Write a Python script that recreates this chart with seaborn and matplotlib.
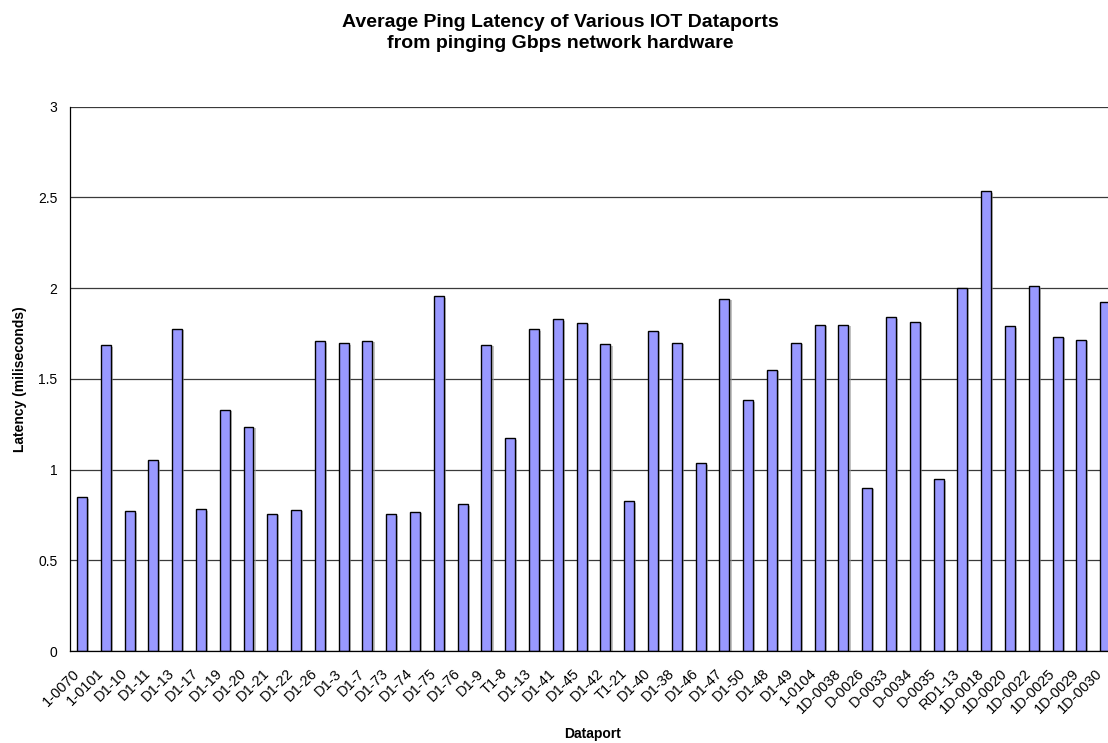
import numpy as np
import pandas as pd
import matplotlib
matplotlib.use("Agg")
import matplotlib.pyplot as plt
import matplotlib.patheffects as pe
from matplotlib.transforms import ScaledTranslation
import seaborn as sns

# Dataport names (note D1-13 shows up twice, so positions are used as x)
dataports = ['1-0070', '1-0101', 'D1-10', 'D1-11', 'D1-13', 'D1-17', 'D1-19', 'D1-20',
             'D1-21', 'D1-22', 'D1-26', 'D1-3', 'D1-7', 'D1-73', 'D1-74', 'D1-75',
             'D1-76', 'D1-9', 'T1-8', 'D1-13', 'D1-41', 'D1-45', 'D1-42', 'T1-21',
             'D1-40', 'D1-38', 'D1-46', 'D1-47', 'D1-50', 'D1-48', 'D1-49', '1-0104',
             '1D-0038', 'D-0026', 'D-0033', 'D-0034', 'D-0035', 'RD1-13', '1D-0018',
             '1D-0020', '1D-0022', '1D-0025', '1D-0029', '1D-0030']

# average latency in milliseconds
latency = [0.848, 1.685, 0.770, 1.050, 1.775, 0.780, 1.330, 1.235,
           0.757, 0.777, 1.706, 1.695, 1.708, 0.754, 0.768, 1.955,
           0.808, 1.688, 1.172, 1.773, 1.828, 1.810, 1.690, 0.826,
           1.763, 1.698, 1.035, 1.940, 1.382, 1.550, 1.700, 1.797,
           1.797, 0.900, 1.840, 1.813, 0.946, 2.003, 2.533, 1.790,
           2.010, 1.730, 1.714, 1.924]

yticks = [0, 0.5, 1, 1.5, 2, 2.5, 3]
ytick_labels = ['0', '0.5', '1', '1.5', '2', '2.5', '3']

df = pd.DataFrame({'pos': np.arange(len(dataports)), 'latency': latency})

sns.set_style("white")
plt.rcParams['font.family'] = ['Liberation Sans', 'DejaVu Sans']

fig = plt.figure(figsize=(11.08, 7.43), dpi=100)
ax = fig.add_axes([0.0632, 0.1238, 0.945, 0.7327])

sns.barplot(data=df, x='pos', y='latency', color='#9999FF', saturation=1,
            edgecolor='black', linewidth=1.0, width=0.42, errorbar=None, ax=ax)

# soft excel-like drop shadow on the bars
for p in ax.patches:
    p.set_path_effects([pe.SimplePatchShadow(offset=(1.5, -1), shadow_rgbFace='#999999', alpha=0.6),
                        pe.Normal()])

# gridlines behind the bars
ax.set_axisbelow(True)
ax.yaxis.grid(True, color='#3a3a3a', linewidth=0.9)
ax.set_ylim(0, 3)
ax.set_xlim(-0.5, len(dataports) - 0.5)
ax.set_yticks(yticks)
ax.set_yticklabels(ytick_labels, fontsize=10, color='black')

# category labels under bars, tick marks between categories
ax.set_xticks(np.arange(len(dataports)))
ax.set_xticklabels(dataports, rotation=45, ha='right', rotation_mode='anchor',
                   fontsize=10.5, color='black')
ax.set_xticks(np.arange(len(dataports) + 1) - 0.5, minor=True)
ax.tick_params(axis='x', which='major', length=0, pad=11)
ax.tick_params(axis='x', which='minor', length=5, width=0.9, color='black', direction='out')
ax.tick_params(axis='y', length=5, width=0.9, color='black', direction='out', pad=4)

# nudge the rotated labels a little to the left, like the excel original
shift = ScaledTranslation(-7 / 72, 0, fig.dpi_scale_trans)
for lbl in ax.get_xticklabels():
    lbl.set_transform(lbl.get_transform() + shift)

for s in ['top', 'right']:
    ax.spines[s].set_visible(False)
for s in ['left', 'bottom']:
    ax.spines[s].set_color('black')
    ax.spines[s].set_linewidth(0.9)

ax.set_xlabel('Dataport', fontsize=10, fontweight='bold', color='black')
ax.xaxis.set_label_coords(0.4986, -0.140)
ax.set_ylabel('Latency (miliseconds)', fontsize=10, fontweight='bold', color='black')
ax.yaxis.set_label_coords(-0.041, 0.5)

fig.text(0.5054, 0.981, 'Average Ping Latency of Various IOT Dataports\nfrom pinging Gbps network hardware',
         ha='center', va='top', fontsize=14, fontweight='bold', linespacing=1.3, color='black')

fig.savefig('out.png', dpi=100)
